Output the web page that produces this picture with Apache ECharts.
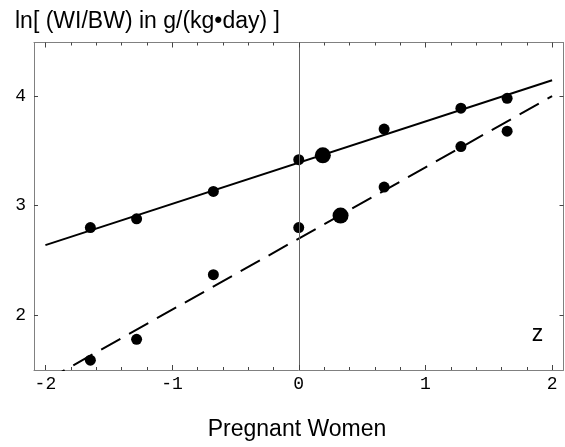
<!DOCTYPE html>
<html>
<head>
<meta charset="utf-8">
<script src="https://cdn.jsdelivr.net/npm/echarts@6/dist/echarts.min.js"></script>
<style>
html,body{margin:0;padding:0;background:#fff;}
#main{width:565px;height:447px;}
</style>
</head>
<body>
<div id="main"></div>
<script>
// z values (percentiles 5,10,25,50,75,90,95)
var zValues = [-1.645, -1.28, -0.674, 0, 0.674, 1.28, 1.645];
var solidY = [2.80, 2.88, 3.13, 3.42, 3.70, 3.89, 3.98];
var dashedY = [1.59, 1.78, 2.37, 2.80, 3.17, 3.54, 3.68];
// big dots (mean)
var bigSolid = [0.19, 3.46];
var bigDashed = [0.33, 2.91];
// fitted lines, end points
var fitSolid = [[-2, 2.64], [2, 4.146]];
var fitDashed = [[-2, 1.40], [2, 4.00]];
// ticks
var xMajor = [-2, -1, 0, 1, 2];
var xTicks = [-2, -1.8, -1.6, -1.4, -1.2, -1, -0.8, -0.6, -0.4, -0.2, 0, 0.2, 0.4, 0.6, 0.8, 1, 1.2, 1.4, 1.6, 1.8, 2];
var yMajor = [2, 3, 4];

var pts = function(ys){
	return zValues.map(function(z, i){ return [z, ys[i]]; });
};

var dom = document.getElementById("main");
var myChart = echarts.init(dom);
var tickColor = '#444';
var frameColor = '#808080';
var monoLabel = {fontFamily: 'Liberation Mono', fontSize: 18, color: '#000'};
var xMin = -2.09, xMax = 2.09, yMin = 1.5, yMax = 4.49;

function frameX(pos, lab){
	return {
		type: 'value', position: pos, min: xMin, max: xMax,
		axisLine: {show: true, onZero: false, lineStyle: {color: frameColor, width: 1}},
		axisTick: {show: false}, splitLine: {show: false},
		axisLabel: lab ? Object.assign({customValues: xMajor, margin: 5}, monoLabel) : {show: false}
	};
}
function yAx(pos, lab){
	return {
		type: 'value', position: pos, min: yMin, max: yMax,
		axisLine: {show: true, onZero: false, lineStyle: {color: frameColor, width: 1}},
		splitLine: {show: false},
		axisTick: {show: true, inside: true, length: 4, customValues: yMajor, lineStyle: {color: tickColor}},
		axisLabel: lab ? Object.assign({customValues: yMajor, margin: 8}, monoLabel) : {show: false}
	};
}

var option = {
	animation: false,
	grid: {left: 34, top: 42.5, width: 529.5, height: 327.5, show: false},
	xAxis: [
		frameX('bottom', true),
		frameX('top', false)
	],
	yAxis: [
		yAx('left', true),
		yAx('right', false)
	],
	graphic: [
		{type: 'text', left: 15, top: 10, style: {text: 'ln[ (WI/BW) in g/(kg•day) ]', fontFamily: 'Liberation Sans', fontSize: 23, fill: '#000'}},
		{type: 'text', x: 537.5, y: 335, style: {text: 'z', fontFamily: 'Liberation Sans', fontSize: 23, fill: '#000', align: 'center', verticalAlign: 'middle'}},
		{type: 'text', x: 297, y: 430, style: {text: 'Pregnant Women', fontFamily: 'Liberation Sans', fontSize: 23, fill: '#000', align: 'center', verticalAlign: 'middle'}}
	],
	series: [
		// inward x ticks on bottom and top frame, placed through the axis scale
		{
			type: 'custom', silent: true, clip: false, z: 5,
			data: xTicks.map(function(v){ return [v]; }),
			renderItem: function(params, api){
				var v = api.value(0);
				var len = Math.abs(v - Math.round(v)) < 1e-6 ? 5 : 3;
				var pb = api.coord([v, yMin]);
				var pt = api.coord([v, yMax]);
				var x = Math.round(pb[0]) + 0.5;
				return {type: 'group', children: [
					{type: 'line', shape: {x1: x, y1: pb[1], x2: x, y2: pb[1] - len}, style: {stroke: tickColor, lineWidth: 1}},
					{type: 'line', shape: {x1: x, y1: pt[1], x2: x, y2: pt[1] + len}, style: {stroke: tickColor, lineWidth: 1}}
				]};
			}
		},
		{
			type: 'line', data: fitSolid, symbol: 'none', silent: true,
			lineStyle: {color: '#000', width: 2},
			markLine: {
				silent: true, symbol: 'none', label: {show: false},
				lineStyle: {color: '#666', width: 1, type: 'solid'},
				data: [{xAxis: 0}]
			}
		},
		{
			type: 'line', data: fitDashed, symbol: 'none', silent: true,
			lineStyle: {color: '#000', width: 2, type: [22, 10]}
		},
		{type: 'scatter', data: pts(solidY), symbolSize: 11, itemStyle: {color: '#000', opacity: 1}},
		{type: 'scatter', data: pts(dashedY), symbolSize: 11, itemStyle: {color: '#000', opacity: 1}},
		{type: 'scatter', data: [bigSolid, bigDashed], symbolSize: 16, itemStyle: {color: '#000', opacity: 1}}
	]
};
if (option && typeof option === "object") {
	myChart.setOption(option, true);
}
</script>
</body>
</html>
